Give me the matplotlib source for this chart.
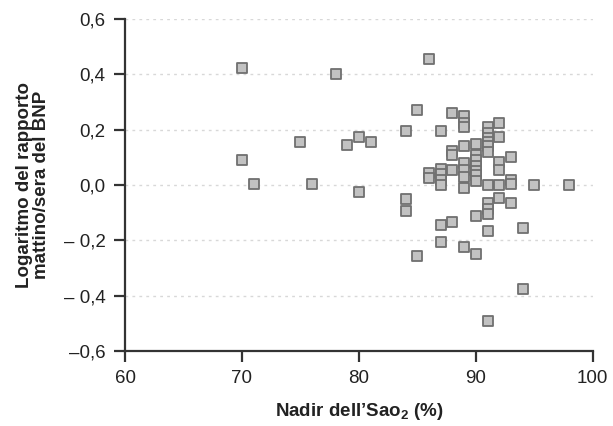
import matplotlib
matplotlib.use("Agg")
import matplotlib.pyplot as plt

plt.rcParams['font.family'] = ['Liberation Sans', 'DejaVu Sans']
plt.rcParams['mathtext.fontset'] = 'custom'
plt.rcParams['mathtext.rm'] = 'Liberation Sans'
plt.rcParams['mathtext.bf'] = 'Liberation Sans:bold'

nadir_sao2 = [70, 70, 71, 75, 76, 78, 79, 80, 80, 81,
              84, 84, 84, 85, 85, 86, 86, 86,
              87, 87, 87, 87, 87, 87, 87,
              88, 88, 88, 88, 88,
              89, 89, 89, 89, 89, 89, 89, 89, 89,
              90, 90, 90, 90, 90, 90, 90, 90, 90,
              91, 91, 91, 91, 91, 91, 91, 91, 91, 91, 91, 91,
              92, 92, 92, 92, 92, 92,
              93, 93, 93, 93, 94, 94, 95, 98]
log_ratio = [0.425, 0.09, 0.005, 0.155, 0.005, 0.40, 0.145, 0.175, -0.025, 0.155,
             0.195, -0.05, -0.095, 0.27, -0.255, 0.455, 0.045, 0.025,
             0.195, 0.06, 0.04, 0.02, 0.0, -0.145, -0.205,
             0.26, 0.125, 0.11, 0.055, -0.135,
             0.25, 0.225, 0.21, 0.14, 0.08, 0.055, 0.03, -0.01, -0.225,
             0.15, 0.11, 0.09, 0.07, 0.05, 0.035, 0.015, -0.11, -0.25,
             0.21, 0.19, 0.17, 0.155, 0.14, 0.12, 0.0, -0.065, -0.085, -0.105, -0.165, -0.49,
             0.225, 0.175, 0.085, 0.055, 0.0, -0.045,
             0.10, 0.02, 0.005, -0.065, -0.155, -0.375, 0.0, 0.0]

x_ticks = [60, 70, 80, 90, 100]
y_ticks = [-0.6, -0.4, -0.2, 0.0, 0.2, 0.4, 0.6]
y_tick_labels = ['–0,6', '– 0,4', '– 0,2', '0,0', '0,2', '0,4', '0,6']

fig = plt.figure(figsize=(6.13, 4.26), dpi=100)
ax = fig.add_axes([0.204, 0.176, 0.763, 0.779])

for yv in y_ticks[1:]:
    ax.axhline(yv, color='#d8d8d8', lw=1.0, ls=(0, (2, 3)), zorder=1)

ax.scatter(nadir_sao2, log_ratio, marker='s', s=48, facecolor='#c2c2c2',
           edgecolor='#707070', linewidths=1.3, zorder=3, clip_on=False)

ax.set_xlim(60, 100)
ax.set_ylim(-0.6, 0.6)
ax.set_xticks(x_ticks)
ax.set_xticklabels([str(v) for v in x_ticks])
ax.set_yticks(y_ticks)
ax.set_yticklabels(y_tick_labels)

for s in ['top', 'right']:
    ax.spines[s].set_visible(False)
for s in ['left', 'bottom']:
    ax.spines[s].set_color('#333333')
    ax.spines[s].set_linewidth(1.6)

ax.tick_params(axis='both', direction='out', length=8, width=1.6, color='#333333',
               labelsize=13.5, labelcolor='#222222', pad=6)

ax.set_xlabel(r'Nadir dell’Sao$_\mathbf{2}$ (%)', fontsize=13.5, fontweight='bold',
              color='#222222', labelpad=10)
ax.set_ylabel('Logaritmo del rapporto\nmattino/sera del BNP', fontsize=13.5,
              fontweight='bold', color='#222222', labelpad=10, linespacing=0.95)

fig.savefig('out.png', dpi=100, facecolor='white')
